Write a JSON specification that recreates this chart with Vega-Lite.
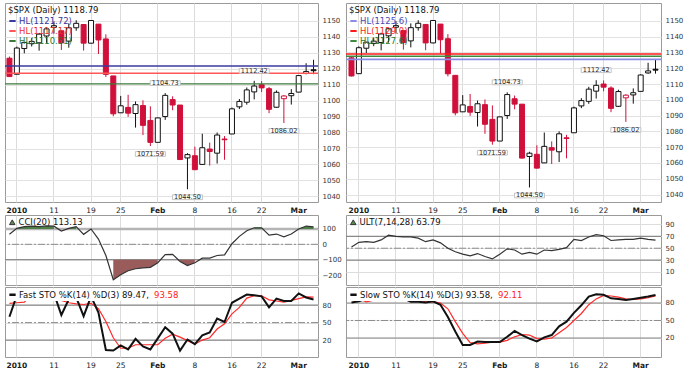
{
  "$schema": "https://vega.github.io/schema/vega-lite/v6.json",
  "background": "white",
  "padding": {"left": 3, "top": 2, "right": 0, "bottom": 0},
  "columns": 2,
  "align": "each",
  "bounds": "full",
  "spacing": {"row": 0, "column": 2},
  "resolve": {"scale": {"color": "independent"}, "legend": {"color": "independent"}},
  "config": {
    "view": {"stroke": "#9a9a9a", "strokeWidth": 1},
    "axis": {"ticks": false, "domain": false, "labelFont": "DejaVu Sans", "minExtent": 0},
    "axisX": {"grid": true, "gridColor": "#dcdcdc", "bandPosition": 0.5, "labelAngle": 0, "labelFontSize": 7.5, "labelPadding": 4, "labelColor": "#1a1a1a"},
    "axisY": {"labelFontSize": 7, "labelPadding": 4, "labelColor": "#333333", "labelOverlap": false},
    "legend": {"orient": "top-left", "offset": 2, "padding": 1, "labelFont": "DejaVu Sans", "titleFont": "DejaVu Sans", "labelFontSize": 8.5, "titleFontSize": 8.5, "titleFontWeight": "normal", "titleColor": "#111111", "labelColor": "#111111", "rowPadding": 1, "labelOffset": 2, "titlePadding": 2, "symbolStrokeWidth": 2, "symbolSize": 40, "labelLimit": 220}
  },
  "datasets": {
    "bars": [
      {"d":"2009-12-31","o":1126.6,"h":1127.64,"l":1114.81,"c":1115.1,"cci":66,"fk":60,"fd":83,"ult":52,"sk":81,"sd":91},
      {"d":"2010-01-04","o":1116.56,"h":1133.87,"l":1116.56,"c":1132.99,"cci":104,"fk":97,"fd":84,"ult":60,"sk":83,"sd":87},
      {"d":"2010-01-05","o":1132.66,"h":1136.63,"l":1129.66,"c":1136.52,"cci":115,"fk":98,"fd":85,"ult":61,"sk":87,"sd":82},
      {"d":"2010-01-06","o":1135.71,"h":1139.19,"l":1133.95,"c":1137.14,"cci":118,"fk":95,"fd":97,"ult":60,"sk":92,"sd":85},
      {"d":"2010-01-07","o":1136.27,"h":1142.46,"l":1131.32,"c":1141.69,"cci":115,"fk":96,"fd":96,"ult":64,"sk":96,"sd":90},
      {"d":"2010-01-08","o":1140.52,"h":1145.39,"l":1136.22,"c":1144.98,"cci":120,"fk":100,"fd":97,"ult":72,"sk":97,"sd":94},
      {"d":"2010-01-11","o":1145.96,"h":1149.74,"l":1142.02,"c":1146.98,"cci":118,"fk":100,"fd":99,"ult":70,"sk":99,"sd":97},
      {"d":"2010-01-12","o":1143.81,"h":1143.81,"l":1131.77,"c":1136.22,"cci":87,"fk":63,"fd":88,"ult":69,"sk":88,"sd":95},
      {"d":"2010-01-13","o":1137.31,"h":1148.4,"l":1133.18,"c":1145.68,"cci":104,"fk":90,"fd":84,"ult":69,"sk":82,"sd":90},
      {"d":"2010-01-14","o":1145.68,"h":1150.41,"l":1143.8,"c":1148.46,"cci":115,"fk":93,"fd":82,"ult":67,"sk":82,"sd":86},
      {"d":"2010-01-15","o":1147.72,"h":1147.77,"l":1131.39,"c":1136.03,"cci":65,"fk":61,"fd":81,"ult":61,"sk":81,"sd":82},
      {"d":"2010-01-19","o":1136.03,"h":1150.45,"l":1135.77,"c":1150.23,"cci":100,"fk":95,"fd":83,"ult":64,"sk":83,"sd":82},
      {"d":"2010-01-20","o":1147.95,"h":1147.95,"l":1129.25,"c":1138.04,"cci":34,"fk":67,"fd":74,"ult":59,"sk":77,"sd":80},
      {"d":"2010-01-21","o":1138.68,"h":1141.58,"l":1114.84,"c":1116.48,"cci":-73,"fk":3,"fd":52,"ult":50,"sk":56,"sd":70},
      {"d":"2010-01-22","o":1115.49,"h":1115.49,"l":1090.18,"c":1091.76,"cci":-231,"fk":2,"fd":24,"ult":44,"sk":31,"sd":48},
      {"d":"2010-01-25","o":1092.4,"h":1102.97,"l":1092.4,"c":1096.78,"cci":-198,"fk":11,"fd":6,"ult":40,"sk":8,"sd":28},
      {"d":"2010-01-26","o":1095.8,"h":1103.69,"l":1089.86,"c":1092.17,"cci":-172,"fk":4,"fd":6,"ult":37,"sk":8,"sd":12},
      {"d":"2010-01-27","o":1091.94,"h":1099.51,"l":1083.11,"c":1097.5,"cci":-159,"fk":22,"fd":12,"ult":41,"sk":14,"sd":10},
      {"d":"2010-01-28","o":1096.93,"h":1100.22,"l":1078.46,"c":1084.53,"cci":-153,"fk":9,"fd":12,"ult":36,"sk":13,"sd":11},
      {"d":"2010-01-29","o":1087.61,"h":1096.45,"l":1071.59,"c":1073.87,"cci":-150,"fk":4,"fd":12,"ult":32,"sk":13,"sd":13},
      {"d":"2010-02-01","o":1073.89,"h":1089.38,"l":1073.89,"c":1089.19,"cci":-120,"fk":23,"fd":12,"ult":40,"sk":13,"sd":13},
      {"d":"2010-02-02","o":1090.05,"h":1104.73,"l":1087.96,"c":1103.32,"cci":-67,"fk":42,"fd":23,"ult":49,"sk":22,"sd":16},
      {"d":"2010-02-03","o":1100.67,"h":1102.72,"l":1093.97,"c":1097.28,"cci":-65,"fk":31,"fd":30,"ult":47,"sk":32,"sd":22},
      {"d":"2010-02-04","o":1097.25,"h":1097.25,"l":1062.78,"c":1063.11,"cci":-112,"fk":2,"fd":25,"ult":40,"sk":25,"sd":26},
      {"d":"2010-02-05","o":1064.12,"h":1067.13,"l":1044.5,"c":1066.19,"cci":-138,"fk":21,"fd":19,"ult":43,"sk":19,"sd":25},
      {"d":"2010-02-08","o":1065.51,"h":1071.2,"l":1056.51,"c":1056.74,"cci":-120,"fk":13,"fd":13,"ult":40,"sk":14,"sd":19},
      {"d":"2010-02-09","o":1060.06,"h":1079.28,"l":1060.06,"c":1070.52,"cci":-90,"fk":28,"fd":20,"ult":47,"sk":21,"sd":18},
      {"d":"2010-02-10","o":1069.68,"h":1073.67,"l":1059.34,"c":1068.13,"cci":-90,"fk":33,"fd":24,"ult":46,"sk":25,"sd":20},
      {"d":"2010-02-11","o":1067.1,"h":1080.04,"l":1060.59,"c":1078.47,"cci":-73,"fk":57,"fd":39,"ult":48,"sk":40,"sd":29},
      {"d":"2010-02-12","o":1075.95,"h":1077.81,"l":1062.97,"c":1075.51,"cci":-69,"fk":51,"fd":48,"ult":51,"sk":48,"sd":38},
      {"d":"2010-02-16","o":1079.13,"h":1095.67,"l":1079.13,"c":1094.87,"cci":4,"fk":84,"fd":65,"ult":65,"sk":63,"sd":50},
      {"d":"2010-02-17","o":1096.14,"h":1101.03,"l":1094.72,"c":1099.51,"cci":52,"fk":91,"fd":76,"ult":63,"sk":76,"sd":62},
      {"d":"2010-02-18","o":1099.03,"h":1108.24,"l":1097.48,"c":1106.75,"cci":88,"fk":98,"fd":92,"ult":69,"sk":91,"sd":77},
      {"d":"2010-02-19","o":1105.49,"h":1112.42,"l":1100.8,"c":1109.17,"cci":108,"fk":97,"fd":96,"ult":73,"sk":95,"sd":87},
      {"d":"2010-02-22","o":1110,"h":1112.29,"l":1105.38,"c":1108.01,"cci":108,"fk":95,"fd":96,"ult":71,"sk":94,"sd":93},
      {"d":"2010-02-23","o":1107.49,"h":1108.58,"l":1092.18,"c":1094.6,"cci":60,"fk":76,"fd":89,"ult":63,"sk":88,"sd":92},
      {"d":"2010-02-24","o":1095.89,"h":1106.42,"l":1095.5,"c":1105.24,"cci":67,"fk":91,"fd":87,"ult":64,"sk":87,"sd":90},
      {"d":"2010-02-25","o":1101.24,"h":1103.5,"l":1086.02,"c":1102.94,"cci":49,"fk":87,"fd":85,"ult":65,"sk":85,"sd":87},
      {"d":"2010-02-26","o":1103.1,"h":1107.24,"l":1097.56,"c":1104.49,"cci":67,"fk":87,"fd":88,"ult":65,"sk":87,"sd":86},
      {"d":"2010-03-01","o":1105.36,"h":1116.11,"l":1105.36,"c":1115.71,"cci":100,"fk":100,"fd":91,"ult":67,"sk":89,"sd":87},
      {"d":"2010-03-02","o":1117.01,"h":1123.46,"l":1116.51,"c":1118.31,"cci":119,"fk":93,"fd":94,"ult":65,"sk":91,"sd":89},
      {"d":"2010-03-03","o":1119.36,"h":1125.64,"l":1116.58,"c":1118.79,"cci":113.13,"fk":89.47,"fd":93.58,"ult":63.79,"sk":93.58,"sd":92.11}
    ],
    "hlL": [
      {"name": "HL(1121.72)", "v": 1121.72},
      {"name": "HL(1117.17)", "v": 1117.17},
      {"name": "HL(1110.51)", "v": 1110.51}
    ],
    "hlR": [
      {"name": "HL(1125.6)", "v": 1125.6},
      {"name": "HL(1129.0)", "v": 1129.0},
      {"name": "HL(1127.6)", "v": 1127.6}
    ],
    "notes": [
      {"d": "2010-01-29", "v": 1071.59, "kind": "low"},
      {"d": "2010-02-02", "v": 1104.73, "kind": "high"},
      {"d": "2010-02-05", "v": 1044.5, "kind": "low"},
      {"d": "2010-02-19", "v": 1112.42, "kind": "high"},
      {"d": "2010-02-25", "v": 1086.02, "kind": "low"}
    ]
  },
  "concat": [
    {
      "width": 313, "height": 199,
      "encoding": {
        "x": {"field": "d", "type": "ordinal", "title": null, "scale": {"type": "band", "paddingInner": 0, "paddingOuter": 0.1}, "axis": {"orient": "bottom", "values": ["2010-01-04","2010-01-11","2010-01-19","2010-01-25","2010-02-01","2010-02-08","2010-02-16","2010-02-22","2010-03-01"], "labelExpr": "{'2010-01-04':'2010','2010-01-11':'11','2010-01-19':'19','2010-01-25':'25','2010-02-01':'Feb','2010-02-08':'8','2010-02-16':'16','2010-02-22':'22','2010-03-01':'Mar'}[datum.value]", "labelFontWeight": {"condition": {"test": "datum.value == '2010-01-04' || datum.value == '2010-02-01' || datum.value == '2010-03-01'", "value": "bold"}, "value": "normal"}}}
      },
      "layer": [
        {
          "data": {"name": "bars"},
          "transform": [{"window": [{"op": "lag", "field": "c", "as": "pc"}], "sort": [{"field": "d"}]}],
          "encoding": {
            "y": {"field": "l", "type": "quantitative", "title": null, "scale": {"domain": [1036.5, 1161.2], "nice": false, "zero": false}, "axis": {"orient": "right", "format": "d", "labelOverlap": false, "values": [1040,1050,1060,1070,1080,1090,1100,1110,1120,1130,1140,1150], "grid": true, "gridColor": "#e2e2e2"}},
            "stroke": {"condition": {"test": "datum.pc == null ? datum.c < datum.o : datum.c < datum.pc", "value": "#d0103a"}, "value": "#111111"}
          },
          "layer": [
            {"mark": {"type": "rule", "strokeWidth": 1},
             "encoding": {"y2": {"field": "h"}}},
            {"mark": {"type": "bar", "width": 5, "strokeWidth": 1},
             "encoding": {
               "y": {"field": "o", "type": "quantitative", "title": null, "scale": {"domain": [1036.5, 1161.2], "nice": false, "zero": false}, "axis": {"orient": "right", "format": "d", "labelOverlap": false, "values": [1040,1050,1060,1070,1080,1090,1100,1110,1120,1130,1140,1150], "grid": true, "gridColor": "#e2e2e2"}},
               "y2": {"field": "c"},
               "fill": {"condition": [{"test": "datum.c >= datum.o", "value": "white"}, {"test": "datum.pc == null ? datum.c < datum.o : datum.c < datum.pc", "value": "#d0103a"}], "value": "#111111"}
             }}
          ]
        },
        {
          "data": {"name": "hlL"},
          "mark": {"type": "rule", "strokeWidth": 1.4},
          "encoding": {
            "y": {"field": "v", "type": "quantitative", "title": null, "scale": {"domain": [1036.5, 1161.2], "nice": false, "zero": false}, "axis": {"orient": "right", "format": "d", "labelOverlap": false, "values": [1040,1050,1060,1070,1080,1090,1100,1110,1120,1130,1140,1150], "grid": true, "gridColor": "#e2e2e2"}},
            "x": null,
            "color": {"field": "name", "type": "nominal", "scale": {"domain": ["HL(1121.72)", "HL(1117.17)", "HL(1110.51)"], "range": ["#3a3aa0", "#ff5656", "#3b7a3b"]},
              "legend": {"title": "$SPX (Daily) 1118.79", "symbolType": "stroke", "encode": {"labels": {"update": {"fill": {"signal": "datum.value == 'HL(1121.72)' ? '#36369c' : datum.value == 'HL(1117.17)' ? '#e8322f' : '#2c7a2c'"}}}}}}
          }
        },
        {
          "data": {"name": "notes"},
          "encoding": {"y": {"field": "v", "type": "quantitative", "title": null, "scale": {"domain": [1036.5, 1161.2], "nice": false, "zero": false}, "axis": {"orient": "right", "format": "d", "labelOverlap": false, "values": [1040,1050,1060,1070,1080,1090,1100,1110,1120,1130,1140,1150], "grid": true, "gridColor": "#e2e2e2"}}},
          "layer": [
            {"transform": [{"filter": "datum.kind == 'high'"}], "mark": {"type": "point", "shape": "M-1,-0.16L1,-0.16L1,0.16L-1,0.16Z", "size": 900, "filled": true, "fill": "white", "stroke": "#c4c4c4", "strokeWidth": 1, "opacity": 1, "yOffset": -10}},
            {"transform": [{"filter": "datum.kind == 'low'"}], "mark": {"type": "point", "shape": "M-1,-0.16L1,-0.16L1,0.16L-1,0.16Z", "size": 900, "filled": true, "fill": "white", "stroke": "#c4c4c4", "strokeWidth": 1, "opacity": 1, "yOffset": 8}},
            {"transform": [{"filter": "datum.kind == 'high'"}], "mark": {"type": "text", "dy": -10, "font": "DejaVu Sans", "fontSize": 6.5, "color": "#222222"}, "encoding": {"text": {"field": "v", "type": "quantitative", "format": ".2f"}}},
            {"transform": [{"filter": "datum.kind == 'low'"}], "mark": {"type": "text", "dy": 8, "font": "DejaVu Sans", "fontSize": 6.5, "color": "#222222"}, "encoding": {"text": {"field": "v", "type": "quantitative", "format": ".2f"}}}
          ]
        }
      ]
    },
    {
      "width": 315, "height": 199,
      "encoding": {
        "x": {"field": "d", "type": "ordinal", "title": null, "scale": {"type": "band", "paddingInner": 0, "paddingOuter": 0.24}, "axis": {"orient": "bottom", "values": ["2010-01-04","2010-01-11","2010-01-19","2010-01-25","2010-02-01","2010-02-08","2010-02-16","2010-02-22","2010-03-01"], "labelExpr": "{'2010-01-04':'2010','2010-01-11':'11','2010-01-19':'19','2010-01-25':'25','2010-02-01':'Feb','2010-02-08':'8','2010-02-16':'16','2010-02-22':'22','2010-03-01':'Mar'}[datum.value]", "labelFontWeight": {"condition": {"test": "datum.value == '2010-01-04' || datum.value == '2010-02-01' || datum.value == '2010-03-01'", "value": "bold"}, "value": "normal"}}}
      },
      "layer": [
        {
          "data": {"name": "bars"},
          "transform": [{"window": [{"op": "lag", "field": "c", "as": "pc"}], "sort": [{"field": "d"}]}],
          "encoding": {
            "y": {"field": "l", "type": "quantitative", "title": null, "scale": {"domain": [1035.3, 1161.3], "nice": false, "zero": false}, "axis": {"orient": "right", "format": "d", "labelOverlap": false, "values": [1040,1050,1060,1070,1080,1090,1100,1110,1120,1130,1140,1150], "grid": true, "gridColor": "#e2e2e2"}},
            "stroke": {"condition": {"test": "datum.pc == null ? datum.c < datum.o : datum.c < datum.pc", "value": "#d0103a"}, "value": "#111111"}
          },
          "layer": [
            {"mark": {"type": "rule", "strokeWidth": 1},
             "encoding": {"y2": {"field": "h"}}},
            {"mark": {"type": "bar", "width": 5, "strokeWidth": 1},
             "encoding": {
               "y": {"field": "o", "type": "quantitative", "title": null, "scale": {"domain": [1035.3, 1161.3], "nice": false, "zero": false}, "axis": {"orient": "right", "format": "d", "labelOverlap": false, "values": [1040,1050,1060,1070,1080,1090,1100,1110,1120,1130,1140,1150], "grid": true, "gridColor": "#e2e2e2"}},
               "y2": {"field": "c"},
               "fill": {"condition": [{"test": "datum.c >= datum.o", "value": "white"}, {"test": "datum.pc == null ? datum.c < datum.o : datum.c < datum.pc", "value": "#d0103a"}], "value": "#111111"}
             }}
          ]
        },
        {
          "data": {"name": "hlR"},
          "mark": {"type": "rule", "strokeWidth": 1.6},
          "encoding": {
            "y": {"field": "v", "type": "quantitative", "title": null, "scale": {"domain": [1035.3, 1161.3], "nice": false, "zero": false}, "axis": {"orient": "right", "format": "d", "labelOverlap": false, "values": [1040,1050,1060,1070,1080,1090,1100,1110,1120,1130,1140,1150], "grid": true, "gridColor": "#e2e2e2"}},
            "x": null,
            "color": {"field": "name", "type": "nominal", "scale": {"domain": ["HL(1125.6)", "HL(1129.0)", "HL(1127.6)"], "range": ["#8c8ce6", "#ff1a1a", "#3e8a3e"]},
              "legend": {"title": "$SPX (Daily) 1118.79", "symbolType": "stroke", "encode": {"labels": {"update": {"fill": {"signal": "datum.value == 'HL(1125.6)' ? '#4a4ab8' : datum.value == 'HL(1129.0)' ? '#ff1a1a' : '#2c7a2c'"}}}}}}
          }
        },
        {
          "data": {"name": "notes"},
          "encoding": {"y": {"field": "v", "type": "quantitative", "title": null, "scale": {"domain": [1035.3, 1161.3], "nice": false, "zero": false}, "axis": {"orient": "right", "format": "d", "labelOverlap": false, "values": [1040,1050,1060,1070,1080,1090,1100,1110,1120,1130,1140,1150], "grid": true, "gridColor": "#e2e2e2"}}},
          "layer": [
            {"transform": [{"filter": "datum.kind == 'high'"}], "mark": {"type": "point", "shape": "M-1,-0.16L1,-0.16L1,0.16L-1,0.16Z", "size": 900, "filled": true, "fill": "white", "stroke": "#c4c4c4", "strokeWidth": 1, "opacity": 1, "yOffset": -10}},
            {"transform": [{"filter": "datum.kind == 'low'"}], "mark": {"type": "point", "shape": "M-1,-0.16L1,-0.16L1,0.16L-1,0.16Z", "size": 900, "filled": true, "fill": "white", "stroke": "#c4c4c4", "strokeWidth": 1, "opacity": 1, "yOffset": 8}},
            {"transform": [{"filter": "datum.kind == 'high'"}], "mark": {"type": "text", "dy": -10, "font": "DejaVu Sans", "fontSize": 6.5, "color": "#222222"}, "encoding": {"text": {"field": "v", "type": "quantitative", "format": ".2f"}}},
            {"transform": [{"filter": "datum.kind == 'low'"}], "mark": {"type": "text", "dy": 8, "font": "DejaVu Sans", "fontSize": 6.5, "color": "#222222"}, "encoding": {"text": {"field": "v", "type": "quantitative", "format": ".2f"}}}
          ]
        }
      ]
    },
    {
      "width": 313, "height": 70,
      "layer": [
        {"data": {"values": [{"v": 100}]}, "mark": {"type": "rule", "color": "#b4b4b4", "strokeWidth": 2.5},
         "encoding": {"y": {"field": "v", "type": "quantitative", "title": null, "scale": {"domain": [-265, 191], "nice": false, "zero": false}, "axis": {"orient": "right", "labelOverlap": false, "values": [100, 0, -100, -200]}}}},
        {"data": {"values": [{"v": 0}]}, "mark": {"type": "rule", "color": "#8c8c8c", "strokeDash": [7, 2, 2, 2]},
         "encoding": {"y": {"field": "v", "type": "quantitative", "title": null, "scale": {"domain": [-265, 191], "nice": false, "zero": false}, "axis": {"orient": "right", "labelOverlap": false, "values": [100, 0, -100, -200]}}}},
        {"data": {"values": [{"v": -100}]}, "mark": {"type": "rule", "color": "#7a7a7a"},
         "encoding": {"y": {"field": "v", "type": "quantitative", "title": null, "scale": {"domain": [-265, 191], "nice": false, "zero": false}, "axis": {"orient": "right", "labelOverlap": false, "values": [100, 0, -100, -200]}}}},
        {"data": {"name": "bars"},
         "encoding": {
           "x": {"field": "d", "type": "ordinal", "title": null, "scale": {"type": "band", "paddingInner": 0, "paddingOuter": 0.1}, "axis": {"values": ["2010-01-04","2010-01-11","2010-01-19","2010-01-25","2010-02-01","2010-02-08","2010-02-16","2010-02-22","2010-03-01"], "labels": false}},
           "y": {"field": "cci", "type": "quantitative", "title": null, "scale": {"domain": [-265, 191], "nice": false, "zero": false}, "axis": {"orient": "right", "labelOverlap": false, "values": [100, 0, -100, -200]}}
         },
         "layer": [
           {"transform": [{"filter": "datum.cci >= 100 && datum.d <= '2010-01-11'"}], "mark": {"type": "area", "color": "#4f8048"}, "encoding": {"y2": {"datum": 100}}},
           {"transform": [{"filter": "datum.d >= '2010-01-13' && datum.d <= '2010-01-14'"}], "mark": {"type": "area", "color": "#4f8048"}, "encoding": {"y2": {"datum": 100}}},
           {"transform": [{"filter": "datum.d >= '2010-02-19' && datum.d <= '2010-02-22'"}], "mark": {"type": "area", "color": "#4f8048"}, "encoding": {"y2": {"datum": 100}}},
           {"transform": [{"filter": "datum.d >= '2010-03-01'"}], "mark": {"type": "area", "color": "#4f8048"}, "encoding": {"y2": {"datum": 100}}},
           {"transform": [{"filter": "datum.cci <= -100 && datum.d <= '2010-02-01'"}], "mark": {"type": "area", "color": "#9a5b5b"}, "encoding": {"y2": {"datum": -100}}},
           {"transform": [{"filter": "datum.cci <= -100 && datum.d >= '2010-02-04' && datum.d <= '2010-02-08'"}], "mark": {"type": "area", "color": "#9a5b5b"}, "encoding": {"y2": {"datum": -100}}},
           {"mark": {"type": "line", "strokeWidth": 1.2},
            "encoding": {
              "color": {"datum": "CCI(20) 113.13", "type": "nominal", "scale": {"range": ["#333333"]},
                "legend": {"title": null, "symbolType": "triangle-up", "symbolSize": 30, "encode": {"symbols": {"update": {"fill": {"value": "#5b8c4f"}, "stroke": {"value": "#222222"}, "strokeWidth": {"value": 1}}}}}}
            }}
         ]}
      ]
    },
    {
      "width": 315, "height": 70,
      "layer": [
        {"data": {"values": [{"v": 70}]}, "mark": {"type": "rule", "color": "#888888", "strokeWidth": 1.2},
         "encoding": {"y": {"field": "v", "type": "quantitative", "title": null, "scale": {"domain": [-12, 106], "nice": false, "zero": false}, "axis": {"orient": "right", "labelOverlap": false, "values": [90, 70, 50, 30, 10]}}}},
        {"data": {"values": [{"v": 50}]}, "mark": {"type": "rule", "color": "#8c8c8c", "strokeDash": [7, 2, 2, 2]},
         "encoding": {"y": {"field": "v", "type": "quantitative", "title": null, "scale": {"domain": [-12, 106], "nice": false, "zero": false}, "axis": {"orient": "right", "labelOverlap": false, "values": [90, 70, 50, 30, 10]}}}},
        {"data": {"values": [{"v": 30}]}, "mark": {"type": "rule", "color": "#888888", "strokeWidth": 1.2},
         "encoding": {"y": {"field": "v", "type": "quantitative", "title": null, "scale": {"domain": [-12, 106], "nice": false, "zero": false}, "axis": {"orient": "right", "labelOverlap": false, "values": [90, 70, 50, 30, 10]}}}},
        {"data": {"name": "bars"}, "mark": {"type": "line", "strokeWidth": 1.2},
         "encoding": {
           "x": {"field": "d", "type": "ordinal", "title": null, "scale": {"type": "band", "paddingInner": 0, "paddingOuter": 0.24}, "axis": {"values": ["2010-01-04","2010-01-11","2010-01-19","2010-01-25","2010-02-01","2010-02-08","2010-02-16","2010-02-22","2010-03-01"], "labels": false}},
           "y": {"field": "ult", "type": "quantitative", "title": null, "scale": {"domain": [-12, 106], "nice": false, "zero": false}, "axis": {"orient": "right", "labelOverlap": false, "values": [90, 70, 50, 30, 10]}},
           "color": {"datum": "ULT(7,14,28) 63.79", "type": "nominal", "scale": {"range": ["#333333"]},
             "legend": {"title": null, "symbolType": "triangle-up", "symbolSize": 30, "encode": {"symbols": {"update": {"fill": {"value": "#5b8c4f"}, "stroke": {"value": "#222222"}, "strokeWidth": {"value": 1}}}}}}
         }}
      ]
    },
    {
      "width": 313, "height": 70,
      "layer": [
        {"data": {"values": [{"v": 80}]}, "mark": {"type": "rule", "color": "#888888", "strokeWidth": 1.2},
         "encoding": {"y": {"field": "v", "type": "quantitative", "title": null, "scale": {"domain": [-9, 111], "nice": false, "zero": false}, "axis": {"orient": "right", "labelOverlap": false, "values": [80, 50, 20]}}}},
        {"data": {"values": [{"v": 50}]}, "mark": {"type": "rule", "color": "#8c8c8c", "strokeDash": [7, 2, 2, 2]},
         "encoding": {"y": {"field": "v", "type": "quantitative", "title": null, "scale": {"domain": [-9, 111], "nice": false, "zero": false}, "axis": {"orient": "right", "labelOverlap": false, "values": [80, 50, 20]}}}},
        {"data": {"values": [{"v": 20}]}, "mark": {"type": "rule", "color": "#888888", "strokeWidth": 1.2},
         "encoding": {"y": {"field": "v", "type": "quantitative", "title": null, "scale": {"domain": [-9, 111], "nice": false, "zero": false}, "axis": {"orient": "right", "labelOverlap": false, "values": [80, 50, 20]}}}},
        {"data": {"name": "bars"},
         "encoding": {
           "x": {"field": "d", "type": "ordinal", "title": null, "scale": {"type": "band", "paddingInner": 0, "paddingOuter": 0.1}, "axis": {"orient": "bottom", "values": ["2010-01-04","2010-01-11","2010-01-19","2010-01-25","2010-02-01","2010-02-08","2010-02-16","2010-02-22","2010-03-01"], "labelExpr": "{'2010-01-04':'2010','2010-01-11':'11','2010-01-19':'19','2010-01-25':'25','2010-02-01':'Feb','2010-02-08':'8','2010-02-16':'16','2010-02-22':'22','2010-03-01':'Mar'}[datum.value]", "labelFontWeight": {"condition": {"test": "datum.value == '2010-01-04' || datum.value == '2010-02-01' || datum.value == '2010-03-01'", "value": "bold"}, "value": "normal"}}}
         },
         "layer": [
           {"mark": {"type": "line", "strokeWidth": 1.2},
            "encoding": {
              "y": {"field": "fd", "type": "quantitative", "title": null, "scale": {"domain": [-9, 111], "nice": false, "zero": false}, "axis": {"orient": "right", "labelOverlap": false, "values": [80, 50, 20]}},
              "color": {"datum": "%D", "type": "nominal"}
            }},
           {"mark": {"type": "line", "strokeWidth": 2},
            "encoding": {
              "y": {"field": "fk", "type": "quantitative", "title": null, "scale": {"domain": [-9, 111], "nice": false, "zero": false}, "axis": {"orient": "right", "labelOverlap": false, "values": [80, 50, 20]}},
              "color": {"datum": "%K", "type": "nominal", "scale": {"domain": ["%K", "%D"], "range": ["#111111", "#ff2a2a"]},
                "legend": {"title": null, "direction": "horizontal", "symbolType": "stroke", "symbolStrokeWidth": 2.5, "columnPadding": 3, "fillColor": "white",
                  "labelExpr": "datum.value == '%K' ? 'Fast STO %K(14) %D(3) 89.47,' : '93.58'",
                  "encode": {"labels": {"update": {"fill": {"signal": "datum.value == '%D' ? '#ff2020' : '#111111'"}, "dx": {"signal": "datum.value == '%D' ? -9 : 0"}}}, "symbols": {"update": {"opacity": {"signal": "datum.value == '%D' ? 0 : 1"}}}}}}
            }}
         ]}
      ]
    },
    {
      "width": 315, "height": 70,
      "layer": [
        {"data": {"values": [{"v": 80}]}, "mark": {"type": "rule", "color": "#888888", "strokeWidth": 1.2},
         "encoding": {"y": {"field": "v", "type": "quantitative", "title": null, "scale": {"domain": [-12.6, 107.4], "nice": false, "zero": false}, "axis": {"orient": "right", "labelOverlap": false, "values": [80, 50, 20]}}}},
        {"data": {"values": [{"v": 50}]}, "mark": {"type": "rule", "color": "#8c8c8c", "strokeDash": [7, 2, 2, 2]},
         "encoding": {"y": {"field": "v", "type": "quantitative", "title": null, "scale": {"domain": [-12.6, 107.4], "nice": false, "zero": false}, "axis": {"orient": "right", "labelOverlap": false, "values": [80, 50, 20]}}}},
        {"data": {"values": [{"v": 20}]}, "mark": {"type": "rule", "color": "#888888", "strokeWidth": 1.2},
         "encoding": {"y": {"field": "v", "type": "quantitative", "title": null, "scale": {"domain": [-12.6, 107.4], "nice": false, "zero": false}, "axis": {"orient": "right", "labelOverlap": false, "values": [80, 50, 20]}}}},
        {"data": {"name": "bars"},
         "encoding": {
           "x": {"field": "d", "type": "ordinal", "title": null, "scale": {"type": "band", "paddingInner": 0, "paddingOuter": 0.24}, "axis": {"orient": "bottom", "values": ["2010-01-04","2010-01-11","2010-01-19","2010-01-25","2010-02-01","2010-02-08","2010-02-16","2010-02-22","2010-03-01"], "labelExpr": "{'2010-01-04':'2010','2010-01-11':'11','2010-01-19':'19','2010-01-25':'25','2010-02-01':'Feb','2010-02-08':'8','2010-02-16':'16','2010-02-22':'22','2010-03-01':'Mar'}[datum.value]", "labelFontWeight": {"condition": {"test": "datum.value == '2010-01-04' || datum.value == '2010-02-01' || datum.value == '2010-03-01'", "value": "bold"}, "value": "normal"}}}
         },
         "layer": [
           {"mark": {"type": "line", "strokeWidth": 1.2},
            "encoding": {
              "y": {"field": "sd", "type": "quantitative", "title": null, "scale": {"domain": [-12.6, 107.4], "nice": false, "zero": false}, "axis": {"orient": "right", "labelOverlap": false, "values": [80, 50, 20]}},
              "color": {"datum": "%D", "type": "nominal"}
            }},
           {"mark": {"type": "line", "strokeWidth": 2},
            "encoding": {
              "y": {"field": "sk", "type": "quantitative", "title": null, "scale": {"domain": [-12.6, 107.4], "nice": false, "zero": false}, "axis": {"orient": "right", "labelOverlap": false, "values": [80, 50, 20]}},
              "color": {"datum": "%K", "type": "nominal", "scale": {"domain": ["%K", "%D"], "range": ["#111111", "#ff2a2a"]},
                "legend": {"title": null, "direction": "horizontal", "symbolType": "stroke", "symbolStrokeWidth": 2.5, "columnPadding": 3, "fillColor": "white",
                  "labelExpr": "datum.value == '%K' ? 'Slow STO %K(14) %D(3) 93.58,' : '92.11'",
                  "encode": {"labels": {"update": {"fill": {"signal": "datum.value == '%D' ? '#ff2020' : '#111111'"}, "dx": {"signal": "datum.value == '%D' ? -9 : 0"}}}, "symbols": {"update": {"opacity": {"signal": "datum.value == '%D' ? 0 : 1"}}}}}}
            }}
         ]}
      ]
    }
  ]
}
